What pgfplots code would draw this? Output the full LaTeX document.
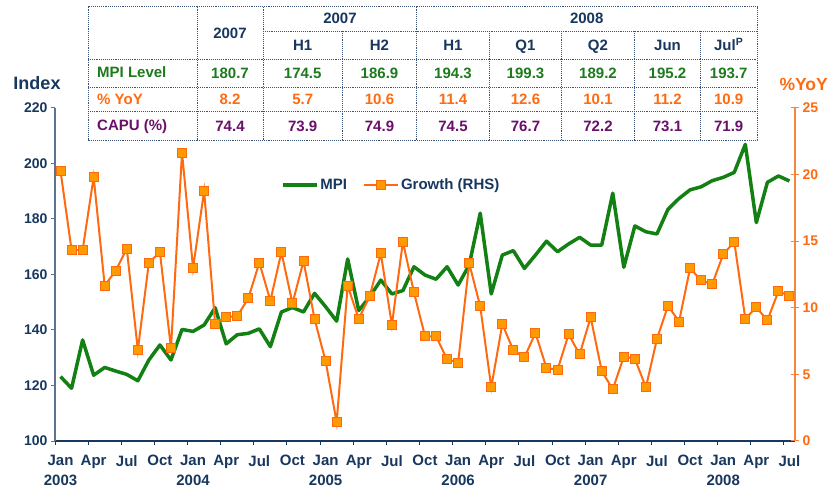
\documentclass[border=0pt]{standalone}
\usepackage{fontspec}
\setmainfont{Liberation Sans}
\usepackage{pgfplots}
\usepackage{pgfplotstable}
\pgfplotsset{compat=1.18}

\definecolor{navy}{HTML}{17375E}
\definecolor{slate}{HTML}{5B7490}
\definecolor{mpigreen}{HTML}{138013}
\definecolor{txtgreen}{HTML}{1D7A1D}
\definecolor{orln}{HTML}{FF6A10}
\definecolor{orfill}{HTML}{FF9A00}
\definecolor{oraxis}{HTML}{F5863C}
\definecolor{purp}{HTML}{6A0F6A}
\definecolor{tblline}{HTML}{3A5478}

% month index 0 = Jan 2003 ... 66 = Jul 2008
\pgfplotstableread{
i mpi
0 123.2
1 119.0
2 136.4
3 123.7
4 126.5
5 125.2
6 124.0
7 121.7
8 129.2
9 134.6
10 129.2
11 140.2
12 139.5
13 141.8
14 148.0
15 135.0
16 138.3
17 138.8
18 140.4
19 134.0
20 146.5
21 148.1
22 146.5
23 153.2
24 148.4
25 143.2
26 165.6
27 147.0
28 152.0
29 158.0
30 153.0
31 154.2
32 162.8
33 159.8
34 158.3
35 162.8
36 156.2
37 163.4
38 182.1
39 153.0
40 167.0
41 168.6
42 162.2
43 167.0
44 172.0
45 168.2
46 171.0
47 173.4
48 170.6
49 170.6
50 189.3
51 162.6
52 177.5
53 175.4
54 174.6
55 183.5
56 187.4
57 190.5
58 191.6
59 193.8
60 195.0
61 196.8
62 206.9
63 178.7
64 193.2
65 195.5
66 193.7
}\mpidata

\pgfplotstableread{
i yoy
0 20.27
1 14.34
2 14.34
3 19.82
4 11.66
5 12.80
6 14.44
7 6.83
8 13.39
9 14.17
10 6.96
11 21.65
12 12.97
13 18.77
14 8.78
15 9.31
16 9.38
17 10.71
18 13.39
19 10.53
20 14.17
21 10.33
22 13.51
23 9.16
24 6.00
25 1.40
26 11.66
27 9.16
28 10.89
29 14.09
30 8.71
31 14.96
32 11.16
33 7.86
34 7.86
35 6.13
36 5.88
37 13.34
38 10.11
39 4.03
40 8.78
41 6.81
42 6.28
43 8.11
44 5.48
45 5.35
46 8.01
47 6.51
48 9.29
49 5.26
50 3.88
51 6.33
52 6.18
53 4.03
54 7.66
55 10.16
56 8.96
57 12.97
58 12.06
59 11.76
60 14.01
61 14.96
62 9.18
63 10.04
64 9.06
65 11.24
66 10.90
}\yoydata

\newcommand\tk{\fontsize{14bp}{19bp}\selectfont\bfseries}
\newcommand\tm{\fontsize{15bp}{19.5bp}\selectfont\bfseries}
\newcommand\tf{\fontsize{15bp}{18bp}\selectfont\bfseries}

\begin{document}
\begin{tikzpicture}
\path[use as bounding box] (0,0) rectangle (829bp,487bp);

\begin{axis}[
  at={(55bp,46bp)}, anchor=south west,
  scale only axis, width=740bp, height=333bp,
  xmin=-0.5, xmax=66.5, ymin=100, ymax=220,
  axis x line*=bottom, axis y line*=left,
  x axis line style={navy, line width=1.2bp},
  y axis line style={slate, line width=1.2bp},
  xtick={-0.5,2.5,...,65.6},
  xticklabels={{Jan\\2003},Apr,Jul,Oct,{Jan\\2004},Apr,Jul,Oct,{Jan\\2005},Apr,Jul,Oct,
    {Jan\\2006},Apr,Jul,Oct,{Jan\\2007},Apr,Jul,Oct,{Jan\\2008},Apr,Jul},
  xticklabel style={align=center, xshift=5.52bp, yshift=-7bp, text=navy, font=\tm},
  ytick={100,120,...,220},
  yticklabel style={text=navy, font=\tk},
  xtick style={navy, line width=1bp},
  ytick style={slate, line width=1bp},
  tick align=outside, major tick length=4bp,
  /pgf/number format/assume math mode=true,
]
\addplot[mpigreen, line width=3.5bp, line join=round] table[x=i, y=mpi] {\mpidata};
\end{axis}

\begin{axis}[
  at={(55bp,46bp)}, anchor=south west,
  scale only axis, width=740bp, height=333bp,
  xmin=-0.5, xmax=66.5, ymin=0, ymax=25,
  axis x line=none, axis y line*=right,
  y axis line style={oraxis, line width=1.2bp},
  ytick={0,5,...,25},
  yticklabel style={text=orln, font=\tk},
  ytick style={oraxis, line width=1bp},
  tick align=center, major tick length=8bp,
  /pgf/number format/assume math mode=true,
  legend style={at={(0.301,0.769)}, anchor=west, draw=none, fill=none,
    font=\tf, text=navy, legend columns=2,
    /tikz/every even column/.append style={column sep=14bp}},
  legend image code/.code={\draw[mark repeat=2,mark phase=2,#1]
    plot coordinates {(0bp,0bp)(17bp,0bp)(34bp,0bp)};},
]
\addlegendimage{mpigreen, line width=3.5bp}
\addlegendentry{MPI}
\addplot[orln, line width=2bp, mark=square*, mark size=4.5bp,
  mark options={fill=orfill, draw=orln, line width=1bp}] table[x=i, y=yoy] {\yoydata};
\addlegendentry{Growth (RHS)}
\end{axis}

\begin{scope}[x=1bp, y=-1bp, yshift=487bp]
  \node[text=navy, font=\fontsize{18bp}{20bp}\selectfont\bfseries, anchor=base] at (37,90) {Index};
  \node[text=orln, font=\fontsize{17.5bp}{20bp}\selectfont\bfseries, anchor=base east, inner sep=0pt] at (828,91) {\%YoY};

  % table grid
  \fill[white] (88,6.7) rectangle (757,140);
  \begin{scope}[tblline, densely dotted, line width=0.9bp]
    \draw (88,6.7) rectangle (757,140);
    \draw (263,31) -- (757,31);
    \draw (88,59) -- (757,59);
    \draw (88,87.3) -- (757,87.3);
    \draw (88,111) -- (757,111);
    \foreach \cx in {197,263,416.7} \draw (\cx,6.7) -- (\cx,140);
    \foreach \cx in {342.3,489.3,561.7,634.3,700.7} \draw (\cx,31) -- (\cx,140);
  \end{scope}

  \begin{scope}[every node/.style={font=\tf, anchor=base, inner sep=0pt}]
    \node[text=navy] at (230,38.5) {2007};
    \node[text=navy] at (340,24) {2007};
    \node[text=navy] at (586.7,24) {2008};
    \foreach \cx/\t in {302.7/H1,379.5/H2,453/H1,525.5/Q1,598/Q2,667.5/Jun,728.7/{Jul\textsuperscript{P}}}
      \node[text=navy] at (\cx,50.5) {\t};
    \node[text=txtgreen, anchor=base west] at (97,78) {MPI Level};
    \node[text=orln, anchor=base west] at (97,104.5) {\% YoY};
    \node[text=purp, anchor=base west] at (97,131) {CAPU (\%)};
    \foreach \cx/\a/\b/\c in {230/180.7/8.2/74.4, 302.7/174.5/5.7/73.9, 379.5/186.9/10.6/74.9,
        453/194.3/11.4/74.5, 525.5/199.3/12.6/76.7, 598/189.2/10.1/72.2,
        667.5/195.2/11.2/73.1, 728.7/193.7/10.9/71.9} {
      \node[text=txtgreen] at (\cx,78.5) {\a};
      \node[text=orln] at (\cx,104.5) {\b};
      \node[text=purp] at (\cx,132) {\c};
    }
  \end{scope}
\end{scope}
\end{tikzpicture}
\end{document}
